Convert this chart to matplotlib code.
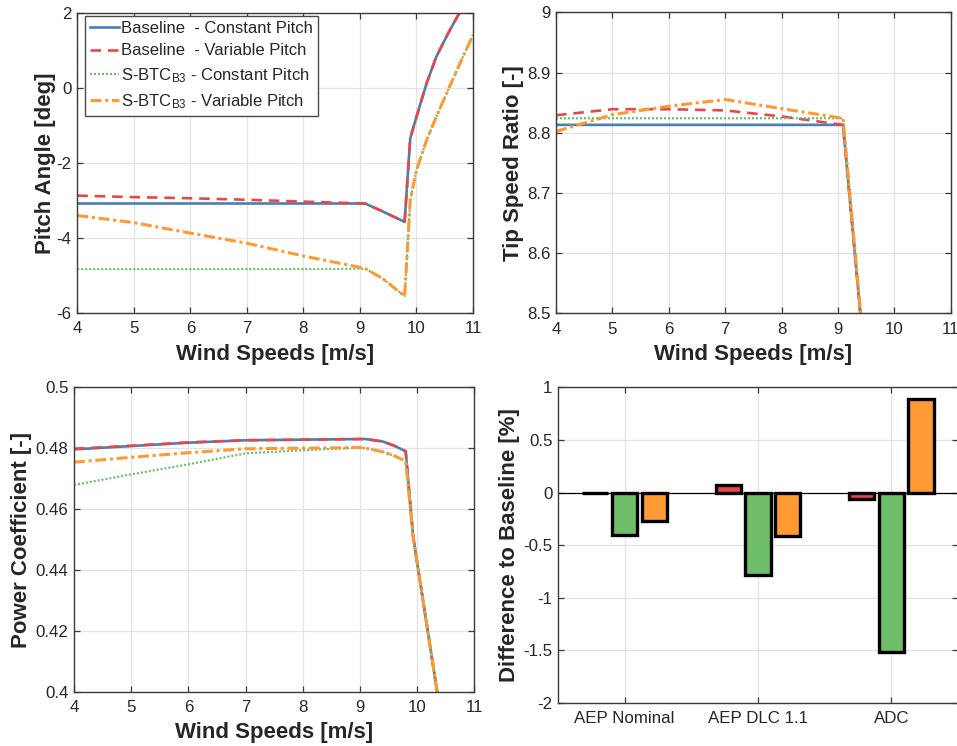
import numpy as np
import matplotlib
matplotlib.use('Agg')
import matplotlib.pyplot as plt
from matplotlib.ticker import FuncFormatter

plt.rcParams['font.family'] = ['Liberation Sans', 'DejaVu Sans']
plt.rcParams['mathtext.default'] = 'regular'
plt.rcParams['axes.unicode_minus'] = False

# pitch angle vs wind speed
ws_pitch = [4, 5, 6, 7, 8, 9.09, 9.4, 9.79, 9.89, 10.0, 10.18, 10.35, 10.56, 10.77, 11.0]
pitch_base_const = [-3.08, -3.08, -3.08, -3.08, -3.08, -3.08, -3.29, -3.57,
                    -1.34, -0.77, 0.13, 0.83, 1.46, 2.03, 2.62]
pitch_base_var = [-2.87, -2.91, -2.94, -2.98, -3.03, -3.08, -3.29, -3.57,
                  -1.34, -0.77, 0.13, 0.83, 1.46, 2.03, 2.62]
pitch_sbtc_const = [-4.83, -4.83, -4.83, -4.83, -4.83, -4.82, -5.08, -5.55,
                    -2.99, -2.19, -1.39, -0.77, -0.05, 0.66, 1.41]
pitch_sbtc_var = [-3.40, -3.59, -3.87, -4.14, -4.48, -4.81, -5.08, -5.55,
                  -2.99, -2.19, -1.39, -0.77, -0.05, 0.66, 1.41]

# tip speed ratio vs wind speed
ws_tsr = [4, 5, 6, 7, 8, 9.09, 9.8]
tsr_base_const = [8.813, 8.813, 8.813, 8.813, 8.813, 8.813, 8.09]
tsr_base_var = [8.829, 8.839, 8.839, 8.837, 8.827, 8.813, 8.09]
tsr_sbtc_const = [8.824, 8.824, 8.824, 8.824, 8.824, 8.824, 8.09]
tsr_sbtc_var = [8.802, 8.830, 8.844, 8.855, 8.840, 8.824, 8.09]

# power coefficient vs wind speed
ws_cp = [4, 5, 6, 7, 8, 9, 9.1, 9.4, 9.6, 9.8, 9.93, 10.35, 10.6]
cp_base_const = [0.4796, 0.4807, 0.4818, 0.4826, 0.4828, 0.4830, 0.4830, 0.4822,
                 0.4808, 0.4790, 0.4510, 0.4000, 0.3700]
cp_base_var = [0.4798, 0.4808, 0.4819, 0.4826, 0.4828, 0.4830, 0.4830, 0.4822,
               0.4808, 0.4790, 0.4510, 0.4000, 0.3700]
cp_sbtc_const = [0.4679, 0.4714, 0.4747, 0.4783, 0.4793, 0.4802, 0.4800, 0.4788,
                 0.4775, 0.4758, 0.4510, 0.4000, 0.3700]
cp_sbtc_var = [0.4754, 0.4770, 0.4785, 0.4798, 0.4800, 0.4802, 0.4800, 0.4788,
               0.4775, 0.4758, 0.4510, 0.4000, 0.3700]

# difference to baseline (constant pitch) in percent
bar_cats = ['AEP Nominal', 'AEP DLC 1.1', 'ADC']
diff_base_var = [-0.005, 0.07, -0.06]
diff_sbtc_const = [-0.40, -0.78, -1.52]
diff_sbtc_var = [-0.27, -0.41, 0.89]

labels = ['Baseline  - Constant Pitch',
          'Baseline  - Variable Pitch',
          'S-BTC$_{B3}$ - Constant Pitch',
          'S-BTC$_{B3}$ - Variable Pitch']

c_blue = '#4a7fb3'
c_red = '#e5474d'
c_green = '#6dbd69'
c_orange = '#fd9a33'
txt = '#262626'

styles = [
    dict(color=c_blue, lw=1.9, ls='-'),
    dict(color=c_red, lw=1.9, ls=(0, (4.0, 2.6))),
    dict(color=c_green, lw=1.6, ls=(0, (0.9, 0.9))),
    dict(color=c_orange, lw=2.2, ls=(0, (3.6, 1.2, 1.0, 1.2))),
]

fig = plt.figure(figsize=(9.57, 7.46), dpi=100)


def pos(l, t, r, b):
    W, H = 957.0, 746.0
    return [l / W, (H - b) / H, (r - l) / W, (b - t) / H]


def style_axes(ax):
    ax.grid(True, color='#e3e3e3', lw=0.9)
    ax.set_axisbelow(True)
    for s in ax.spines.values():
        s.set_color('#3a3a3a')
        s.set_linewidth(1.0)
    ax.tick_params(direction='in', length=4, width=0.9, top=True, right=True,
                   colors='#3a3a3a', labelcolor=txt, labelsize=12.2)
    ax.tick_params(axis='x', pad=6)
    ax.tick_params(axis='y', pad=4)


def fmt_g(v, p):
    return '%g' % round(v, 4)


ax1 = fig.add_axes(pos(77.3, 13, 473, 313))
ax2 = fig.add_axes(pos(556, 12.3, 950.7, 313.3))
ax3 = fig.add_axes(pos(74, 387.3, 474.3, 691.7))
ax4 = fig.add_axes(pos(558, 387.3, 958, 703))

line_panels = [
    (ax1, ws_pitch, [pitch_base_const, pitch_base_var, pitch_sbtc_const, pitch_sbtc_var],
     (-6, 2), np.arange(-6, 2.1, 2), 'Pitch Angle [deg]', -0.053, -0.103),
    (ax2, ws_tsr, [tsr_base_const, tsr_base_var, tsr_sbtc_const, tsr_sbtc_var],
     (8.5, 9), np.arange(8.5, 9.01, 0.1), 'Tip Speed Ratio [-]', -0.081, -0.103),
    (ax3, ws_cp, [cp_base_const, cp_base_var, cp_sbtc_const, cp_sbtc_var],
     (0.4, 0.5), np.arange(0.4, 0.501, 0.02), 'Power Coefficient [-]', -0.104, -0.10),
]

for ax, x, series, ylim, yticks, ylab, ylab_x, xlab_y in line_panels:
    for y, st, lab in zip(series, styles, labels):
        ax.plot(x, y, label=lab, **st)
    ax.set_xlim(4, 11)
    ax.set_ylim(*ylim)
    ax.set_xticks(range(4, 12))
    ax.set_yticks(yticks)
    ax.yaxis.set_major_formatter(FuncFormatter(fmt_g))
    style_axes(ax)
    ax.set_xlabel('Wind Speeds [m/s]', fontsize=16, fontweight='bold', color=txt)
    ax.xaxis.set_label_coords(0.5, xlab_y)
    ax.set_ylabel(ylab, fontsize=16, fontweight='bold', color=txt)
    ax.yaxis.set_label_coords(ylab_x, 0.5)

leg = ax1.legend(loc='upper left', bbox_to_anchor=(0.019, 0.99), borderaxespad=0,
                 fontsize=12, handlelength=1.75, handletextpad=0.15,
                 labelspacing=0.45, borderpad=0.3, fancybox=False, framealpha=1)
leg.get_frame().set_edgecolor('#4a4a4a')
leg.get_frame().set_linewidth(1.0)
for t in leg.get_texts():
    t.set_color(txt)

# grouped bars
xc = np.arange(1, len(bar_cats) + 1)
bw = 0.19
off = 0.223
for dx, vals, col in [(-off, diff_base_var, c_red),
                      (0.0, diff_sbtc_const, c_green),
                      (off, diff_sbtc_var, c_orange)]:
    ax4.bar(xc + dx, vals, width=bw, color=col, edgecolor='black', linewidth=2.4, zorder=3)
ax4.axhline(0, color='black', lw=0.9, zorder=2)
ax4.set_xlim(0.5, 3.5)
ax4.set_ylim(-2, 1)
ax4.set_xticks(xc)
ax4.set_xticklabels(bar_cats)
ax4.set_yticks(np.arange(-2, 1.01, 0.5))
ax4.yaxis.set_major_formatter(FuncFormatter(fmt_g))
style_axes(ax4)
ax4.set_ylabel('Difference to Baseline [%]', fontsize=16, fontweight='bold', color=txt)
ax4.yaxis.set_label_coords(-0.094, 0.5)

fig.savefig('out.png', dpi=100)
